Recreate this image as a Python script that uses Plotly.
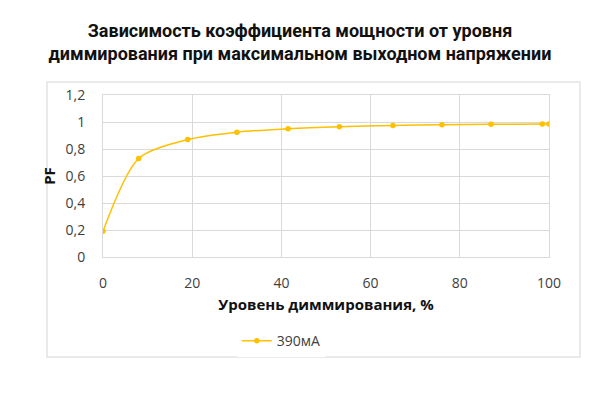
import plotly.graph_objects as go

# dimming level, % and measured power factor at max output voltage
dimming = [0, 8, 19, 30, 41.5, 53, 65, 76, 87, 98.5, 100]
pf_390 = [0.19, 0.73, 0.87, 0.925, 0.95, 0.965, 0.975, 0.98, 0.983, 0.985, 0.985]

x_ticks = [0, 20, 40, 60, 80, 100]
y_ticks = [0, 0.2, 0.4, 0.6, 0.8, 1, 1.2]

gold = "#FFC000"
grid = "#d9d9d9"
tick_font = dict(family="Open Sans", size=14, color="#404040")

fig = go.Figure()
fig.add_trace(go.Scatter(
    x=dimming, y=pf_390, name="390мА",
    mode="lines+markers",
    line=dict(color=gold, width=1.5, shape="spline", smoothing=0.8),
    marker=dict(color=gold, size=5.5),
))

# page has an 8px body margin, so the figure is a bit smaller and margins shifted
fig.update_layout(
    width=584, height=384,
    margin=dict(l=95, r=43, t=87, b=135),
    paper_bgcolor="white", plot_bgcolor="white",
    separators=", ",
    title=dict(
        text="Зависимость коэффициента мощности от уровня<br>диммирования при максимальном выходном напряжении",
        x=0.5, xref="container", xanchor="center",
        y=0.925, yref="container", yanchor="top",
        font=dict(family="Roboto", size=18, color="#111111", weight="bold"),
    ),
    showlegend=True,
    legend=dict(
        orientation="h", x=0.30, xanchor="left", y=-0.519, yanchor="middle",
        font=dict(family="Open Sans", size=14, color="#404040"),
        itemwidth=30,
    ),
    shapes=[dict(
        type="rect", xref="paper", yref="paper",
        x0=-0.1256, x1=1.0695, y0=-0.617, y1=1.08,
        line=dict(color="#e3e3e3", width=1.5), layer="below",
    )],
)

fig.update_xaxes(
    range=[0, 100], tickvals=x_ticks,
    showgrid=True, gridcolor=grid, gridwidth=1,
    showline=True, linecolor=grid, mirror=True, zeroline=False,
    tickfont=tick_font, ticks="", ticklabelstandoff=13,
    title=dict(text="<b>Уровень диммирования, %</b>", standoff=8,
               font=dict(family="Open Sans", size=15, color="#111111")),
)
fig.update_yaxes(
    range=[0, 1.2], tickvals=y_ticks,
    showgrid=True, gridcolor=grid, gridwidth=1,
    showline=True, linecolor=grid, mirror=True, zeroline=False,
    tickfont=tick_font, ticks="", ticklabelstandoff=14,
    title=dict(text="<b>PF</b>", standoff=6,
               font=dict(family="Open Sans", size=15, color="#111111")),
)

fig.write_html("out.html")
